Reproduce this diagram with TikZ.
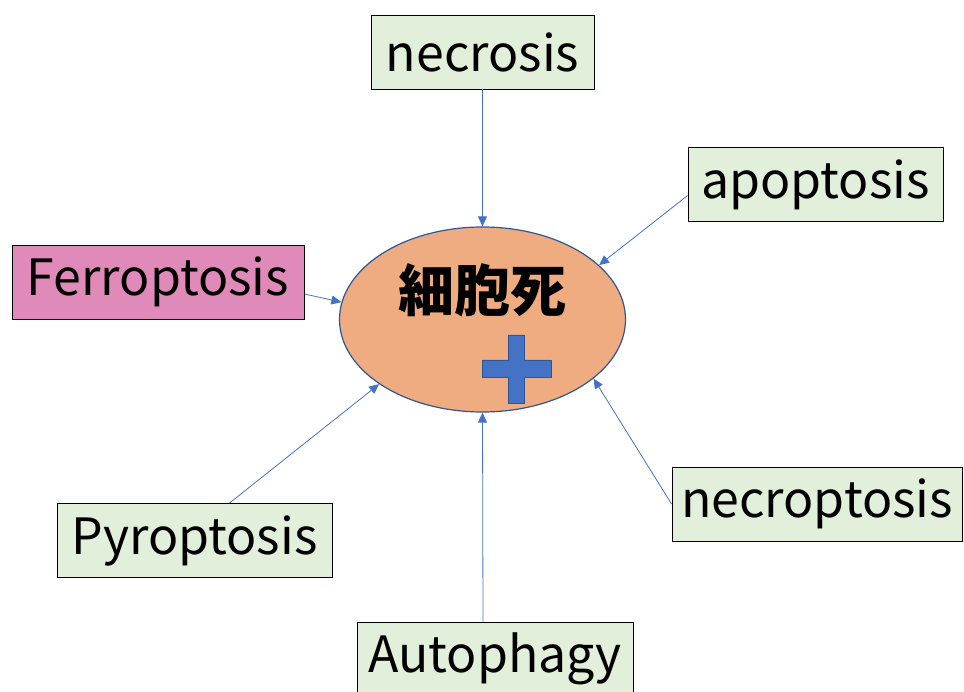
\documentclass[tikz,border=0pt]{standalone}
\usepackage{fontspec}
\setmainfont{Noto Sans CJK JP}
\usetikzlibrary{arrows.meta, shapes.geometric}

\definecolor{boxgreen}{HTML}{E2EFDA}
\definecolor{boxpink}{HTML}{DF8AB8}
\definecolor{cellorange}{HTML}{EEAC80}
\definecolor{edgeblue}{HTML}{2F5597}
\definecolor{arrowblue}{HTML}{4472C4}

\begin{document}
\begin{tikzpicture}[
    x=1pt, y=-1pt,
    term box/.style={rectangle, draw=black, line width=0.9pt, fill=boxgreen, minimum height=74pt, inner sep=0pt, font=\fontsize{50}{56}\selectfont},
    cell node/.style={ellipse, draw=edgeblue, line width=1.2pt, fill=cellorange, minimum width=286pt, minimum height=185pt, inner sep=0pt},
    arrow line/.style={-{Triangle[length=10pt, width=9pt]}, draw=arrowblue, line width=0.8pt}
]
    \clip (0,0) rectangle (964,692);

    % Center
    \node[cell node] (cell) at (482.5,319.5) {};
    \node[font=\fontsize{56}{60}\selectfont\bfseries] (title) at (482,290) {細胞死};
    \filldraw[fill=arrowblue, draw=edgeblue, line width=0.8pt]
        (508,335) -- (524,335) -- (524,360) -- (551,360) -- (551,377) -- (524,377)
        -- (524,403) -- (508,403) -- (508,377) -- (482,377) -- (482,360) -- (508,360) -- cycle;

    % Nodes
    \node[term box, minimum width=223pt] (necro) at (482.5,52) {necrosis};
    \node[term box, minimum width=255pt] (apop) at (815.5,184.5) {apoptosis};
    \node[term box, minimum width=292pt, fill=boxpink] (ferro) at (158,282) {Ferroptosis};
    \node[term box, minimum width=275pt] (pyro) at (194.5,540.5) {Pyroptosis};
    \node[term box, minimum width=290pt] (necrop) at (817,504) {necroptosis};
    \node[term box, minimum width=276pt] (auto) at (495,659) {Autophagy};

    % Edges
    \draw[arrow line] (necro.south) -- (cell.north);
    \draw[arrow line] ([yshift=-11pt]apop.west) -- (cell.25);
    \draw[arrow line] ([yshift=-12pt]ferro.east) -- (cell.173);
    \draw[arrow line] ([xshift=35pt]pyro.north) -- (cell.212);
    \draw[arrow line] ([xshift=-12pt]auto.north) -- (cell.south);
    \draw[arrow line] (necrop.west) -- (cell.-28);

\end{tikzpicture}
\end{document}
